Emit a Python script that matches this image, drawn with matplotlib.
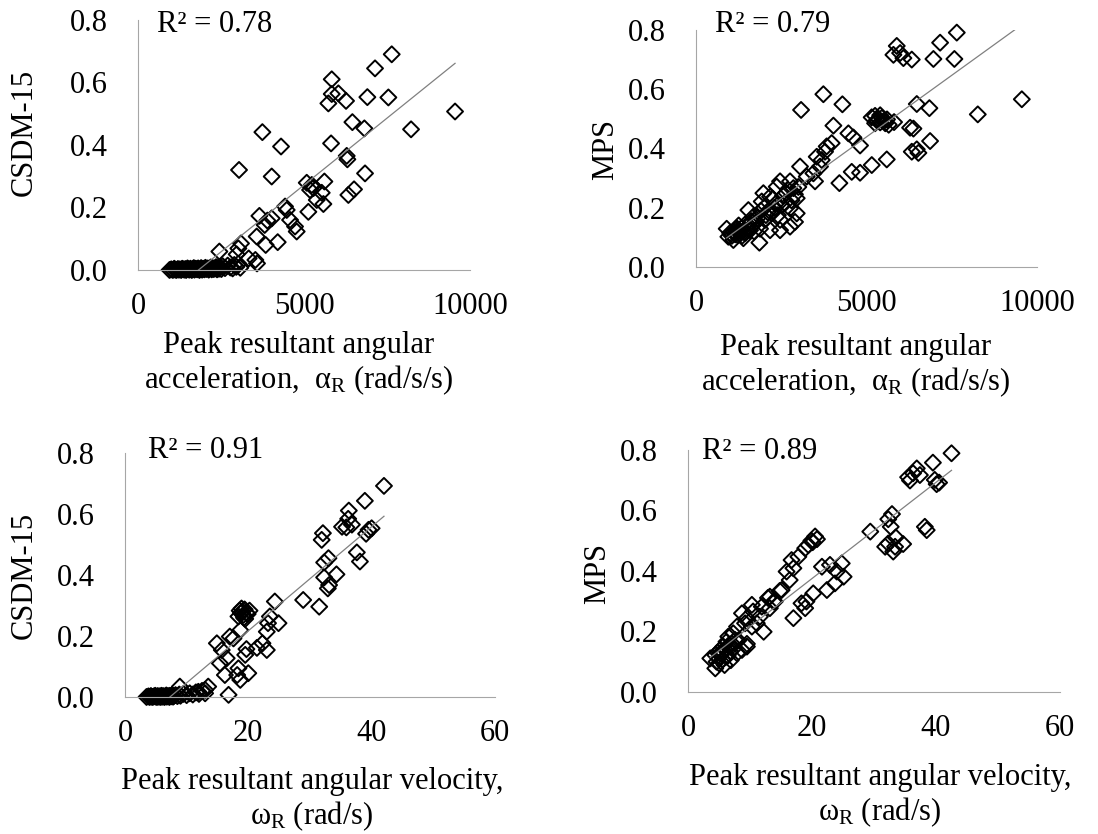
import numpy as np
import matplotlib
matplotlib.use("Agg")
import matplotlib.pyplot as plt
from matplotlib.ticker import FormatStrFormatter

plt.rcParams["font.family"] = ["Liberation Serif", "DejaVu Serif"]
plt.rcParams["mathtext.fontset"] = "custom"
plt.rcParams["mathtext.rm"] = "Liberation Serif"
plt.rcParams["mathtext.it"] = "Liberation Serif:italic"
FS = 22

# peak angular acceleration (rad/s/s) vs CSDM-15
acc_csdm_x = [7641, 7138, 5834, 5834, 6034, 5733, 6265, 6907, 7540, 9548, 6456, 6817,
              8223, 3745, 4307, 5814, 6285, 6305, 6837, 3042, 4026, 5081, 5232, 5282,
              5613, 5182, 5533, 5383, 5583, 6335, 6506, 5130, 4428, 4478, 3655, 3896,
              4026, 3815, 4579, 4729, 4779, 3574, 3845, 4207, 3102, 3022, 2450, 3333,
              3534, 3584, 2971,
              950, 1000, 1050, 1090, 1120, 1160, 1200, 1230, 1260, 1300, 1330, 1370,
              1400, 1430, 1450, 1490, 1520, 1550, 1580, 1620, 1650, 1680, 1700, 1740,
              1780, 1810, 1850, 1880, 1900, 1930, 1960, 2000, 2030, 2060, 2100, 2130,
              2150, 2190, 2220, 2250, 2280, 2320, 2350, 2380, 2400, 2440, 2470, 2510,
              2550, 2620, 2700, 2780, 2850, 2900, 2960, 3020, 3080]
acc_csdm_y = [0.690, 0.645, 0.610, 0.563, 0.565, 0.533, 0.541, 0.553, 0.552, 0.507, 0.473, 0.453,
              0.450, 0.441, 0.395, 0.405, 0.365, 0.354, 0.309, 0.320, 0.299, 0.279, 0.272, 0.262,
              0.283, 0.256, 0.247, 0.224, 0.211, 0.240, 0.258, 0.186, 0.203, 0.192, 0.173, 0.158,
              0.165, 0.144, 0.160, 0.139, 0.123, 0.107, 0.080, 0.089, 0.085, 0.069, 0.059, 0.037,
              0.032, 0.021, 0.050,
              0.000, 0.002, 0.000, 0.004, 0.001, 0.000, 0.003, 0.001, 0.002, 0.000, 0.004, 0.002,
              0.001, 0.003, 0.000, 0.005, 0.002, 0.001, 0.004, 0.000, 0.003, 0.006, 0.001, 0.004,
              0.002, 0.005, 0.000, 0.003, 0.006, 0.001, 0.004, 0.002, 0.007, 0.003, 0.005, 0.001,
              0.004, 0.008, 0.002, 0.006, 0.003, 0.005, 0.009, 0.002, 0.006, 0.004, 0.010, 0.003,
              0.012, 0.006, 0.014, 0.008, 0.005, 0.016, 0.010, 0.020, 0.007]

# peak angular acceleration vs MPS
acc_mps_x = [7646, 7157, 5886, 5788, 5984, 6081, 6326, 6961, 7576, 9553, 3734, 4292,
             3080, 6473, 6843, 8262, 5807, 4028, 6277, 6375, 4468, 4615, 4810, 3978,
             3831, 3783, 6863, 6326, 6473, 6521, 5593, 5153, 4810, 4565, 4204, 3539,
             3686, 3636, 3441, 3050, 3246, 3490, 2757, 2464, 2366, 1975, 2171, 2855,
             2953, 1926, 2513, 2757, 2953, 2220, 1535, 1682, 2024, 2464, 2757, 2903,
             2464, 2171, 1877, 1437, 1242, 1095, 948, 899, 1291, 1389, 1858, 1095, 1584,
             5150, 5250, 5300, 5350, 5400, 5450, 5500, 5550, 5600, 5650, 5250, 5400,
             1150, 1200, 1300, 1350, 1450, 1500, 1650, 1750, 1800, 2050, 2300, 2600,
             2650, 2000, 1700, 1250,
             1000, 1050, 1180, 1220, 1330, 1400, 1550, 1620, 1900, 2100, 2250, 2400,
             2550, 2700, 2800, 3000, 2900, 2350]
acc_mps_y = [0.791, 0.757, 0.746, 0.716, 0.722, 0.705, 0.700, 0.702, 0.702, 0.566, 0.583, 0.549,
             0.530, 0.550, 0.536, 0.515, 0.489, 0.477, 0.470, 0.467, 0.451, 0.437, 0.410, 0.418,
             0.407, 0.389, 0.425, 0.389, 0.397, 0.385, 0.363, 0.344, 0.318, 0.321, 0.283, 0.372,
             0.361, 0.339, 0.316, 0.339, 0.305, 0.289, 0.289, 0.289, 0.271, 0.249, 0.237, 0.266,
             0.232, 0.221, 0.209, 0.198, 0.181, 0.181, 0.192, 0.170, 0.159, 0.159, 0.136, 0.152,
             0.124, 0.124, 0.129, 0.143, 0.124, 0.118, 0.102, 0.129, 0.112, 0.097, 0.082, 0.091, 0.124,
             0.505, 0.510, 0.495, 0.500, 0.488, 0.503, 0.492, 0.485, 0.498, 0.480, 0.485, 0.512,
             0.110, 0.130, 0.120, 0.105, 0.115, 0.135, 0.140, 0.150, 0.165, 0.175, 0.200, 0.215,
             0.250, 0.200, 0.120, 0.140,
             0.115, 0.105, 0.125, 0.108, 0.130, 0.118, 0.128, 0.155, 0.190, 0.185, 0.230, 0.175,
             0.240, 0.260, 0.225, 0.270, 0.245, 0.215]

# peak angular velocity (rad/s) vs CSDM-15
vel_csdm_x = [42.0, 38.9, 36.3, 36.2, 35.2, 35.9, 36.8, 32.1, 31.9, 39.5, 40.0, 39.1,
              37.6, 38.1, 33.0, 32.3, 34.3, 32.3, 32.9, 33.1, 28.9, 31.5, 24.3, 18.6,
              19.2, 18.4, 19.7, 19.5, 23.5, 23.2, 24.9, 23.0, 17.0, 17.6, 18.7, 14.9,
              15.7, 19.7, 19.5, 21.4, 22.3, 23.0, 16.5, 15.4, 18.4, 20.0, 18.2, 18.7,
              16.2, 16.8, 13.5, 13.0, 11.9, 8.9,
              18.9, 19.0, 19.4, 19.9, 20.2, 19.3, 18.8,
              3.5, 3.8, 4.0, 4.2, 4.3, 4.5, 4.7, 4.9, 5.0, 5.2, 5.3, 5.5, 5.6, 5.8,
              5.9, 6.1, 6.2, 6.4, 6.5, 6.7, 6.8, 7.0, 7.2, 7.3, 7.5, 7.6, 7.8, 7.9,
              8.2, 8.5, 8.8, 9.0, 9.5, 10.0, 10.5, 11.0, 11.5, 12.0, 12.5, 13.0]
vel_csdm_y = [0.692, 0.643, 0.611, 0.584, 0.558, 0.556, 0.565, 0.537, 0.515, 0.548, 0.553, 0.535,
              0.474, 0.444, 0.455, 0.441, 0.402, 0.392, 0.356, 0.367, 0.318, 0.296, 0.313, 0.283,
              0.269, 0.264, 0.276, 0.256, 0.264, 0.242, 0.242, 0.214, 0.198, 0.192, 0.219, 0.176,
              0.154, 0.157, 0.138, 0.161, 0.176, 0.154, 0.127, 0.110, 0.094, 0.078, 0.072, 0.056,
              0.072, 0.007, 0.034, 0.023, 0.017, 0.034,
              0.290, 0.280, 0.287, 0.272, 0.283, 0.260, 0.275,
              0.000, 0.002, 0.000, 0.003, 0.001, 0.000, 0.002, 0.004, 0.001, 0.000, 0.003, 0.001, 0.002, 0.000,
              0.004, 0.001, 0.003, 0.000, 0.002, 0.005, 0.001, 0.003, 0.000, 0.004, 0.002, 0.005, 0.001, 0.003,
              0.006, 0.003, 0.008, 0.004, 0.010, 0.006, 0.012, 0.008, 0.015, 0.010, 0.020, 0.012]

# peak angular velocity vs MPS
vel_mps_x = [42.5, 39.5, 36.9, 36.3, 35.5, 35.8, 37.4, 39.8, 40.5, 40.1, 32.9, 32.3,
             32.7, 29.4, 38.2, 38.5, 33.5, 34.7, 31.8, 33.1, 32.3, 33.4,
             20.5, 19.9, 19.4, 18.9, 17.8, 16.7, 17.0, 15.9, 16.4, 15.1, 13.2, 14.0,
             21.6, 22.9, 24.8, 24.0, 25.1, 23.7, 22.4, 20.2, 19.1, 18.3, 18.9, 17.0, 14.8,
             12.9, 13.8, 11.9, 13.2, 10.3, 10.5, 8.7, 9.5, 11.6, 11.1, 12.2, 10.3, 9.2,
             7.9, 7.3, 6.5, 7.6, 6.2, 5.7, 7.0, 9.5, 5.2, 6.8, 4.4, 3.6, 4.6, 4.4, 5.9,
             5.2, 6.2, 7.9, 8.7, 9.5,
             20.8, 20.1, 4.9, 5.4, 6.0, 6.6, 7.1, 5.0, 5.6, 6.4, 7.4, 8.1, 4.8, 6.9]
vel_mps_y = [0.789, 0.758, 0.739, 0.723, 0.710, 0.699, 0.717, 0.701, 0.692, 0.687, 0.588, 0.571,
             0.546, 0.530, 0.546, 0.535, 0.511, 0.489, 0.480, 0.464, 0.491, 0.480,
             0.514, 0.500, 0.486, 0.475, 0.447, 0.436, 0.409, 0.398, 0.370, 0.337, 0.315, 0.299,
             0.414, 0.420, 0.425, 0.398, 0.381, 0.359, 0.337, 0.326, 0.299, 0.293, 0.277, 0.244, 0.334,
             0.311, 0.299, 0.282, 0.277, 0.288, 0.266, 0.260, 0.244, 0.249, 0.227, 0.199, 0.216, 0.227,
             0.216, 0.194, 0.183, 0.172, 0.166, 0.150, 0.150, 0.150, 0.139, 0.134, 0.122, 0.111, 0.100,
             0.078, 0.089, 0.128, 0.117, 0.128, 0.139, 0.159,
             0.505, 0.495, 0.112, 0.125, 0.140, 0.155, 0.160, 0.095, 0.108, 0.120, 0.145, 0.170, 0.130, 0.105]

r2_labels = ["R² = 0.78", "R² = 0.79", "R² = 0.91", "R² = 0.89"]
y_names = ["CSDM-15", "MPS", "CSDM-15", "MPS"]
acc_label = "Peak resultant angular\nacceleration,  α$_\\mathrm{R}$ (rad/s/s)"
vel_label = "Peak resultant angular velocity,\nω$_\\mathrm{R}$ (rad/s)"

W, H = 1098, 834
fig = plt.figure(figsize=(W / 100, H / 100), dpi=100)


def px(x, y):
    return x / W, 1 - y / H


def panel(rect, xs, ys, xmax, xticks):
    ax = fig.add_axes(rect)
    xs = np.asarray(xs, float)
    ys = np.asarray(ys, float)
    ax.scatter(xs, ys, marker="D", s=66, facecolors="none", edgecolors="black",
               linewidths=1.4, clip_on=False, zorder=2)
    # linear trend line fitted to the points
    slope, icpt = np.polyfit(xs, ys, 1)
    lx = np.array([xs.min(), xs.max()])
    ax.plot(lx, slope * lx + icpt, color="#808080", lw=0.9, zorder=3)
    ax.set_xlim(0, xmax)
    ax.set_ylim(0, 0.8)
    ax.set_xticks(xticks)
    ax.set_yticks([0, 0.2, 0.4, 0.6, 0.8])
    ax.yaxis.set_major_formatter(FormatStrFormatter("%.1f"))
    ax.tick_params(length=0, labelsize=FS)
    ax.tick_params(axis="x", pad=16)
    ax.tick_params(axis="y", pad=22)
    for side in ["top", "right"]:
        ax.spines[side].set_visible(False)
    for side in ["left", "bottom"]:
        ax.spines[side].set_color("#a6a6a6")
        ax.spines[side].set_linewidth(0.8)
    ax.patch.set_alpha(0)
    return ax


panel([0.1257, 0.6763, 0.3024, 0.2998], acc_csdm_x, acc_csdm_y, 10000, [0, 5000, 10000])
panel([0.6339, 0.6799, 0.3106, 0.2842], acc_mps_x, acc_mps_y, 10000, [0, 5000, 10000])
panel([0.1138, 0.1643, 0.3370, 0.2926], vel_csdm_x, vel_csdm_y, 60, [0, 20, 40, 60])
panel([0.6266, 0.1703, 0.3388, 0.2902], vel_mps_x, vel_mps_y, 60, [0, 20, 40, 60])

# R-squared annotations
for (x, y), txt in zip([(157, 24), (715, 25), (148, 451), (702, 452)], r2_labels):
    fig.text(*px(x, y), txt, fontsize=FS, ha="left", va="center")

# y axis titles
for (x, y), txt in zip([(24, 132), (606, 150), (24, 575), (598, 574)], y_names):
    fig.text(*px(x, y), txt, fontsize=FS, rotation=90, ha="center", va="center")

# x axis titles
for (x, y), txt in zip([(299, 364), (856, 366), (312, 800), (880, 796)],
                       [acc_label, acc_label, vel_label, vel_label]):
    fig.text(*px(x, y), txt, fontsize=FS, ha="center", va="center",
             multialignment="center", linespacing=1.15)

fig.savefig("out.png", dpi=100)
